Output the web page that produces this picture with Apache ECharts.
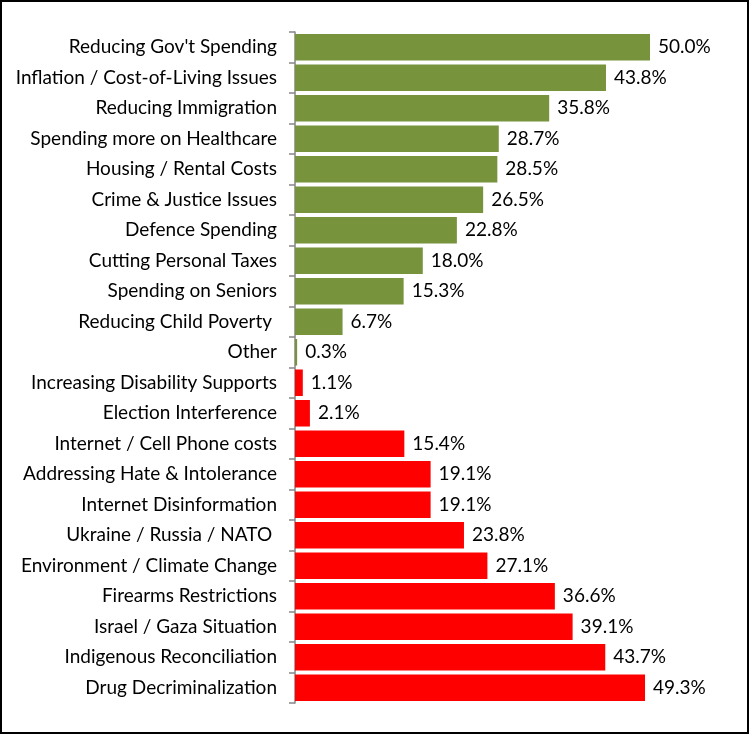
<!DOCTYPE html>
<html><head><meta charset="utf-8">
<script src="https://cdn.jsdelivr.net/npm/echarts@6/dist/echarts.min.js"></script>
<style>html,body{margin:0;padding:0;background:#fff}#c{width:749px;height:734px}</style>
</head><body><div id="c"></div>
<script>
var categories = ["Reducing Gov't Spending","Inflation / Cost-of-Living Issues","Reducing Immigration","Spending more on Healthcare","Housing / Rental Costs","Crime & Justice Issues","Defence Spending","Cutting Personal Taxes","Spending on Seniors","Reducing Child Poverty ","Other","Increasing Disability Supports","Election Interference","Internet / Cell Phone costs","Addressing Hate & Intolerance","Internet Disinformation","Ukraine / Russia / NATO ","Environment / Climate Change","Firearms Restrictions","Israel / Gaza Situation","Indigenous Reconciliation","Drug Decriminalization"];
var values = [50.0,43.8,35.8,28.7,28.5,26.5,22.8,18.0,15.3,6.7,0.3,1.1,2.1,15.4,19.1,19.1,23.8,27.1,36.6,39.1,43.7,49.3];
var greenCount = 11;
var green = '#77933C', red = '#FF0000';
var chart = echarts.init(document.getElementById('c'));
chart.setOption({
  animation:false,
  grid:{left:295, top:32, bottom:31, width:426},
  xAxis:{type:'value', min:0, max:60, show:false},
  yAxis:{type:'category', data:categories, inverse:true,
    axisLine:{show:true, lineStyle:{color:'#868686', width:1.5}},
    axisTick:{show:true, inside:false, interval:0, length:6, lineStyle:{color:'#868686', width:1.5}},
    axisLabel:{fontFamily:'Lato', fontSize:19, color:'#000', margin:18, interval:0}},
  series:[{type:'bar', barCategoryGap:'13%',
    data: values.map(function(v,i){return {value:v, itemStyle:{color: i<greenCount?green:red}};}),
    label:{show:true, position:'right', distance:8, fontFamily:'Lato', fontSize:19, color:'#000',
      formatter:function(p){return p.value.toFixed(1)+'%';}}
  }],
  graphic:[{type:'rect', shape:{x:1, y:1, width:747, height:732}, style:{fill:'none', stroke:'#000', lineWidth:2}}]
});
</script></body></html>
